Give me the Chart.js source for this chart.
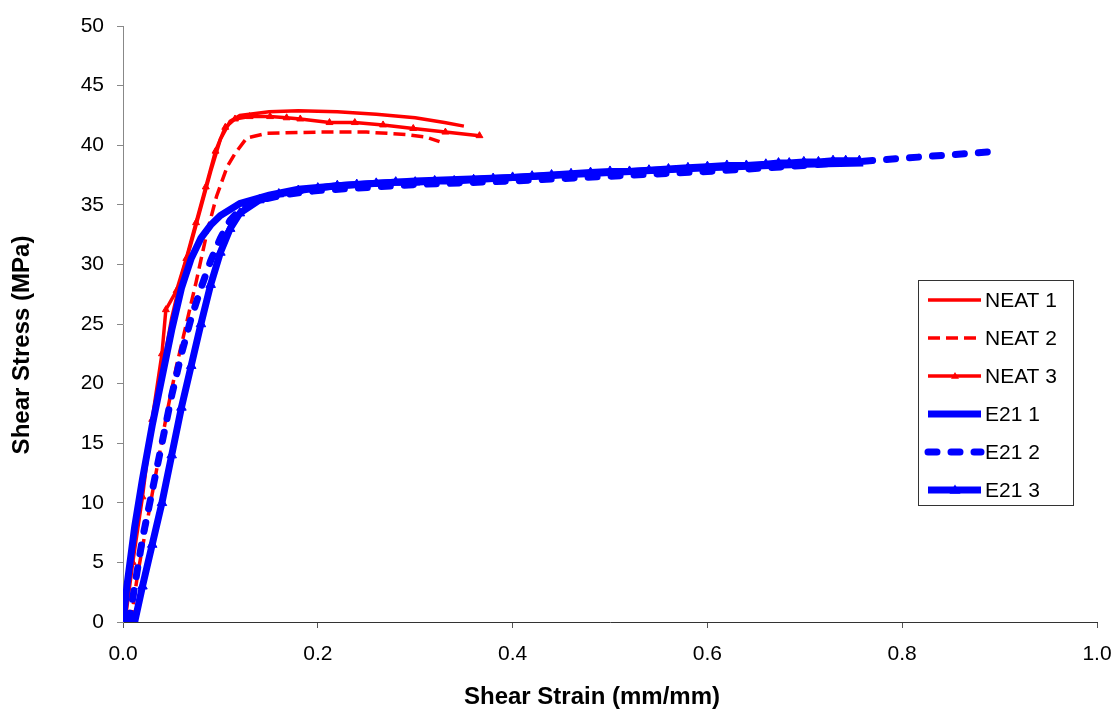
<!DOCTYPE html>
<html>
<head>
<meta charset="utf-8">
<script src="https://cdn.jsdelivr.net/npm/chart.js@4.4.1/dist/chart.umd.min.js"></script>
<style>
  html, body { margin: 0; padding: 0; background: #fff; }
  #wrap { width: 1116px; height: 710px; position: relative; }
</style>
</head>
<body>
<div id="wrap"><canvas id="c" width="1116" height="710"></canvas></div>
<script>
// Shear stress (MPa) vs shear strain (mm/mm)
const neat1Strain = [0, 0.005, 0.01, 0.02, 0.03, 0.04, 0.05, 0.06, 0.07, 0.08, 0.09, 0.1, 0.11, 0.12, 0.15, 0.18, 0.22, 0.26, 0.3, 0.33, 0.35];
const neat1Stress = [0, 3, 6.5, 11.5, 16, 21, 25.5, 29, 31.8, 34.8, 37.8, 40.5, 42.0, 42.5, 42.8, 42.9, 42.8, 42.6, 42.3, 41.9, 41.6];

const neat2Strain = [0.008, 0.015, 0.025, 0.035, 0.045, 0.055, 0.065, 0.075, 0.086, 0.096, 0.107, 0.115, 0.127, 0.148, 0.2, 0.25, 0.29, 0.31, 0.325];
const neat2Stress = [0, 4, 8.5, 13, 17.5, 21.5, 25, 28.5, 32.6, 35.7, 38.2, 39.3, 40.6, 41.0, 41.1, 41.1, 40.9, 40.7, 40.3];

const neat3Strain = [0.002, 0.01, 0.02, 0.03, 0.04, 0.044, 0.055, 0.065, 0.075, 0.085, 0.095, 0.105, 0.115, 0.13, 0.151, 0.168, 0.182, 0.212, 0.238, 0.267, 0.298, 0.331, 0.366];
const neat3Stress = [0, 5, 10.5, 17, 22.5, 26.2, 27.8, 30.5, 33.5, 36.5, 39.5, 41.5, 42.2, 42.4, 42.4, 42.3, 42.2, 41.9, 41.9, 41.7, 41.4, 41.1, 40.8];

const e21aStrain = [0, 0.004, 0.012, 0.02, 0.03, 0.04, 0.05, 0.06, 0.07, 0.08, 0.09, 0.1, 0.12, 0.15, 0.18, 0.22, 0.3, 0.4, 0.5, 0.6, 0.7, 0.76];
const e21aStress = [0, 3, 8, 12, 16.5, 20.5, 24.5, 28, 30.5, 32.2, 33.3, 34.1, 35.1, 35.8, 36.3, 36.6, 37.0, 37.3, 37.7, 38.1, 38.4, 38.5];

const e21bStrain = [0.006, 0.012, 0.02, 0.03, 0.04, 0.05, 0.06, 0.07, 0.08, 0.09, 0.1, 0.11, 0.12, 0.14, 0.17, 0.2, 0.3, 0.4, 0.5, 0.6, 0.7, 0.8, 0.9];
const e21bStress = [0, 3, 7, 11, 15, 19, 22.5, 25.5, 28, 30.3, 32.2, 33.7, 34.6, 35.4, 35.9, 36.2, 36.7, 37.0, 37.4, 37.8, 38.3, 38.9, 39.5];

const e21cStrain = [0.012, 0.02, 0.03, 0.04, 0.05, 0.06, 0.07, 0.08, 0.09, 0.1, 0.11, 0.12, 0.14, 0.16, 0.18,
  0.2, 0.22, 0.24, 0.26, 0.28, 0.3, 0.32, 0.34, 0.36, 0.38, 0.4, 0.42, 0.44, 0.46, 0.48, 0.5,
  0.52, 0.54, 0.56, 0.58, 0.6, 0.62, 0.64, 0.66, 0.673, 0.684, 0.699, 0.714, 0.729, 0.742, 0.756];
const e21cStress = [0, 3, 6.5, 10, 14, 18, 21.5, 25, 28.3, 31, 33, 34.3, 35.4, 35.9, 36.2,
  36.4, 36.6, 36.7, 36.8, 36.9, 36.9, 37.0, 37.0, 37.1, 37.2, 37.3, 37.4, 37.5, 37.6, 37.7, 37.8,
  37.8, 37.9, 38.0, 38.1, 38.2, 38.3, 38.3, 38.4, 38.5, 38.5, 38.6, 38.6, 38.7, 38.7, 38.7];

const xTicks = [0, 0.2, 0.4, 0.6, 0.8, 1.0];
const xTitle = 'Shear Strain (mm/mm)';
const yTitle = 'Shear Stress (MPa)';

const RED = '#ff0000';
const BLUE = '#0000ff';
const FONT = '"Liberation Sans", Arial, sans-serif';

const pts = (xs, ys) => xs.map((x, i) => ({ x, y: ys[i] }));

const datasets = [
  { label: 'NEAT 1', data: pts(neat1Strain, neat1Stress), borderColor: RED, backgroundColor: RED,
    borderWidth: 3.5, pointRadius: 0, order: 2 },
  { label: 'NEAT 2', data: pts(neat2Strain, neat2Stress), borderColor: RED, backgroundColor: RED,
    borderWidth: 3.5, borderDash: [12, 6], pointRadius: 0, order: 2 },
  { label: 'NEAT 3', data: pts(neat3Strain, neat3Stress), borderColor: RED, backgroundColor: RED,
    borderWidth: 3.5, pointRadius: 4, pointStyle: 'triangle', pointBorderWidth: 1, order: 2 },
  { label: 'E21 1', data: pts(e21aStrain, e21aStress), borderColor: BLUE, backgroundColor: BLUE,
    borderWidth: 7, pointRadius: 0, order: 1 },
  { label: 'E21 2', data: pts(e21bStrain, e21bStress), borderColor: BLUE, backgroundColor: BLUE,
    borderWidth: 7, borderDash: [9, 14], borderCapStyle: 'round', pointRadius: 0, order: 1 },
  { label: 'E21 3', data: pts(e21cStrain, e21cStress), borderColor: BLUE, backgroundColor: BLUE,
    borderWidth: 7, pointRadius: 5.5, pointStyle: 'triangle', pointBorderWidth: 1, order: 1 }
];

// boxed legend inside the plot, drawn like the spreadsheet original
const boxLegend = {
  id: 'boxLegend',
  afterDraw(chart) {
    const ctx = chart.ctx;
    const bx = 918, by = 280, bw = 155, bh = 225;
    ctx.save();
    ctx.fillStyle = '#fff';
    ctx.fillRect(bx, by, bw, bh);
    ctx.strokeStyle = '#333';
    ctx.lineWidth = 1;
    ctx.strokeRect(bx + 0.5, by + 0.5, bw, bh);
    chart.data.datasets.forEach((ds, i) => {
      const y = 300 + i * 38;
      ctx.strokeStyle = ds.borderColor;
      ctx.lineWidth = ds.borderWidth;
      ctx.lineCap = ds.borderCapStyle === 'round' ? 'round' : 'butt';
      ctx.setLineDash(ds.borderDash || []);
      ctx.beginPath();
      ctx.moveTo(928, y);
      ctx.lineTo(981, y);
      ctx.stroke();
      ctx.setLineDash([]);
      if (ds.pointRadius) {
        const r = ds.pointRadius;
        ctx.fillStyle = ds.borderColor;
        ctx.beginPath();
        ctx.moveTo(955, y - r);
        ctx.lineTo(955 + r, y + r * 0.7);
        ctx.lineTo(955 - r, y + r * 0.7);
        ctx.closePath();
        ctx.fill();
      }
      ctx.fillStyle = '#000';
      ctx.font = '21px ' + FONT;
      ctx.textAlign = 'left';
      ctx.textBaseline = 'middle';
      ctx.fillText(ds.label, 985, y + 1);
    });
    ctx.restore();
  }
};

// axis titles at the positions used in the original figure
const axisTitles = {
  id: 'axisTitles',
  afterDraw(chart) {
    const ctx = chart.ctx;
    ctx.save();
    ctx.fillStyle = '#000';
    ctx.font = 'bold 24px ' + FONT;
    ctx.textAlign = 'center';
    ctx.textBaseline = 'middle';
    ctx.fillText(xTitle, 592, 697);
    ctx.translate(22, 345);
    ctx.rotate(-Math.PI / 2);
    ctx.fillText(yTitle, 0, 0);
    ctx.restore();
  }
};

new Chart(document.getElementById('c').getContext('2d'), {
  type: 'line',
  data: { datasets },
  options: {
    responsive: false,
    animation: false,
    layout: { padding: { top: 26, right: 19, left: 0, bottom: 0 } },
    plugins: { legend: { display: false }, tooltip: { enabled: false } },
    elements: { line: { tension: 0, fill: false } },
    scales: {
      x: {
        type: 'linear', min: 0, max: 1,
        afterBuildTicks: scale => { scale.ticks = xTicks.map(v => ({ value: v })); },
        afterFit: scale => { scale.height = 88; scale.paddingLeft = 0; scale.paddingRight = 0; },
        ticks: { color: '#000', font: { size: 21, family: FONT }, padding: 14,
          callback: v => Number(v).toFixed(1), maxRotation: 0 },
        grid: { display: true, drawOnChartArea: false, drawTicks: true, tickLength: 6, color: '#555' },
        border: { color: '#333', width: 1 }
      },
      y: {
        min: 0, max: 50,
        afterFit: scale => { scale.width = 123; },
        ticks: { stepSize: 5, color: '#000', font: { size: 21, family: FONT }, padding: 13 },
        grid: { display: true, drawOnChartArea: false, drawTicks: true, tickLength: 6, color: '#888' },
        border: { color: '#888', width: 1 }
      }
    }
  },
  plugins: [boxLegend, axisTitles]
});
</script>
</body>
</html>
